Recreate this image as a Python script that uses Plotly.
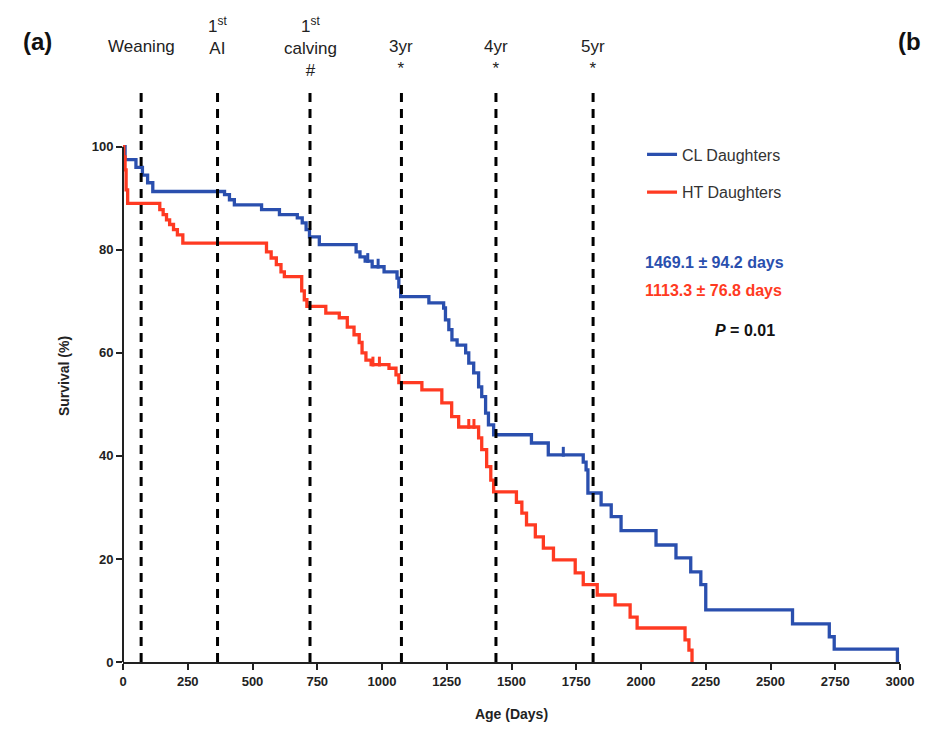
import plotly.graph_objects as go
import bisect

# ---------------- data ----------------
blue_days = [0, 8, 50, 75, 95, 115, 392, 411, 430, 535, 604, 673, 692, 707, 720, 758,
             900, 915, 935, 962, 1008, 1058, 1065, 1072, 1181, 1238, 1245, 1258, 1270, 1290,
             1323, 1335, 1354, 1373, 1385, 1400, 1411, 1431, 1577, 1642, 1777, 1788, 1795,
             1846, 1885, 1923, 2058, 2135, 2192, 2231, 2250, 2585, 2727, 2746, 2990]
blue_surv = [100, 97.5, 96, 94.5, 93, 91.3, 90.7, 89.7, 88.7, 87.8, 86.8, 86.2, 85.2, 83.9, 82.5, 81,
             79.6, 78.6, 77.8, 76.7, 75.7, 74.5, 72.8, 70.9, 69.7, 68.7, 66.4, 64.5, 62.5, 61.5,
             60, 58, 56.1, 53.4, 51.5, 48.3, 46, 44.1, 42.5, 40.2, 38.8, 37.3, 32.8,
             30.5, 28.2, 25.5, 22.7, 20.2, 17.5, 15, 10.1, 7.4, 4.9, 2.5, 0]

red_days = [0, 3, 8, 12, 18, 142, 155, 168, 180, 195, 210, 231, 554, 572, 592, 610, 623, 690, 700,
            710, 783, 835, 866, 892, 912, 923, 938, 958, 1027, 1054, 1065, 1154, 1231, 1269, 1296,
            1373, 1385, 1404, 1420, 1431, 1519, 1540, 1558, 1592, 1623, 1662, 1746, 1777, 1831,
            1900, 1958, 1985, 2170, 2185, 2197]
red_surv = [100, 98, 95.5, 91.6, 89, 87.8, 86.8, 85.8, 84.9, 83.9, 82.9, 81.3, 79.6, 78.4, 77.1, 75.7,
            74.8, 72, 70.3, 69, 67.7, 66.8, 65, 63.5, 62, 60, 58.6, 57.7, 57, 55.7, 54.2, 52.8, 50.3,
            47.6, 45.6, 43.5, 41.2, 37.9, 35.3, 33, 31, 28.9, 26.6, 24.3, 22.1, 19.8, 17.3, 15, 13,
            11.1, 8.7, 6.6, 4.3, 2.3, 0]

blue_censor_days = [945, 985, 1700]
red_censor_days = [965, 990, 1335, 1355]

event_days = [70, 365, 722, 1075, 1440, 1815]
event_labels = ["Weaning", "1<sup>st</sup><br>AI", "1<sup>st</sup><br>calving<br>#",
                "3yr<br>*", "4yr<br>*", "5yr<br>*"]
event_label_row = [2, 1, 1, 2, 2, 2]

x_ticks = list(range(0, 3001, 250))
y_ticks = [0, 20, 40, 60, 80, 100]

BLUE = "#2a4fae"
RED = "#ff3a22"
FONT = "Liberation Sans, Arial, sans-serif"


def step_at(days, surv, d):
    i = bisect.bisect_right(days, d) - 1
    return surv[max(i, 0)]


fig = go.Figure()

fig.add_trace(go.Scatter(x=blue_days, y=blue_surv, mode="lines", line_shape="hv",
                         line=dict(color=BLUE, width=3.3), name="CL Daughters",
                         cliponaxis=False, legendgroup="cl"))
fig.add_trace(go.Scatter(x=red_days, y=red_surv, mode="lines", line_shape="hv",
                         line=dict(color=RED, width=3.3), name="HT Daughters",
                         cliponaxis=False, legendgroup="ht"))

fig.add_trace(go.Scatter(x=blue_censor_days,
                         y=[step_at(blue_days, blue_surv, d) + 0.6 for d in blue_censor_days],
                         mode="markers", showlegend=False, cliponaxis=False,
                         marker=dict(symbol="line-ns", size=7,
                                     line=dict(color=BLUE, width=3))))
fig.add_trace(go.Scatter(x=red_censor_days,
                         y=[step_at(red_days, red_surv, d) + 0.6 for d in red_censor_days],
                         mode="markers", showlegend=False, cliponaxis=False,
                         marker=dict(symbol="line-ns", size=7,
                                     line=dict(color=RED, width=3))))

YTOP = 111

shapes = []
for d in event_days:
    shapes.append(dict(type="line", xref="x", yref="y", x0=d, x1=d, y0=0, y1=YTOP,
                       line=dict(color="black", width=3, dash="9px,7px"), layer="above"))
# y axis line only from 0 to 100
shapes.append(dict(type="line", xref="paper", yref="y", x0=0, x1=0, y0=0, y1=100,
                   line=dict(color="#222", width=2), layer="above"))
fig.update_layout(shapes=shapes)

ROW_TOP = {1: 1.137, 2: 1.097}
annotations = []
for d, lab, row in zip(event_days, event_labels, event_label_row):
    annotations.append(dict(x=d, xref="x", y=ROW_TOP[row], yref="paper", text=lab, showarrow=False,
                            xanchor="center", yanchor="top", align="center",
                            font=dict(family=FONT, size=17, color="#222")))
annotations.append(dict(x=-0.11, xref="paper", y=1.085, yref="paper", text="<b>(a)</b>",
                        showarrow=False, xanchor="center", yanchor="middle",
                        font=dict(family=FONT, size=24, color="#111")))
annotations.append(dict(x=0.995, xref="paper", y=1.085, yref="paper", text="<b>(b</b>",
                        showarrow=False, xanchor="left", yanchor="middle",
                        font=dict(family=FONT, size=24, color="#111")))
annotations.append(dict(x=0.669, xref="paper", y=0.699, yref="paper",
                        text="<b>1469.1 ± 94.2 days</b>", showarrow=False,
                        xanchor="left", yanchor="middle",
                        font=dict(family=FONT, size=16, color=BLUE)))
annotations.append(dict(x=0.669, xref="paper", y=0.650, yref="paper",
                        text="<b>1113.3 ± 76.8 days</b>", showarrow=False,
                        xanchor="left", yanchor="middle",
                        font=dict(family=FONT, size=16, color=RED)))
annotations.append(dict(x=0.80, xref="paper", y=0.580, yref="paper",
                        text="<b><i>P</i> = 0.01</b>", showarrow=False,
                        xanchor="center", yanchor="middle",
                        font=dict(family=FONT, size=16, color="#111")))
fig.update_layout(annotations=annotations)

fig.update_layout(
    width=925, height=739,
    margin=dict(l=123, r=25, t=90, b=77),
    paper_bgcolor="white", plot_bgcolor="white",
    font=dict(family=FONT, color="#222"),
    showlegend=True,
    legend=dict(x=0.668, y=0.917, xanchor="left", yanchor="top",
                bgcolor="rgba(0,0,0,0)", font=dict(family=FONT, size=16, color="#333"),
                traceorder="grouped", tracegroupgap=14),
    xaxis=dict(range=[0, 3000], tickmode="array", tickvals=x_ticks,
               ticktext=[str(v) for v in x_ticks],
               showgrid=False, zeroline=False, showline=True, linecolor="#222", linewidth=2,
               ticks="outside", ticklen=6, tickwidth=2, tickcolor="#222",
               tickfont=dict(family=FONT, size=13, color="#222", weight="bold"),
               title=dict(text="<b>Age (Days)</b>", font=dict(family=FONT, size=14, color="#222"),
                          standoff=22)),
    yaxis=dict(range=[0, YTOP], tickmode="array", tickvals=y_ticks,
               ticktext=[str(v) for v in y_ticks],
               showgrid=False, zeroline=False, showline=False,
               ticks="outside", ticklen=6, tickwidth=2, tickcolor="#222",
               tickfont=dict(family=FONT, size=13, color="#222", weight="bold"),
               title=dict(text="<b>Survival (%)</b>", font=dict(family=FONT, size=14, color="#222"),
                          standoff=18)),
)

fig.write_html("out.html")
